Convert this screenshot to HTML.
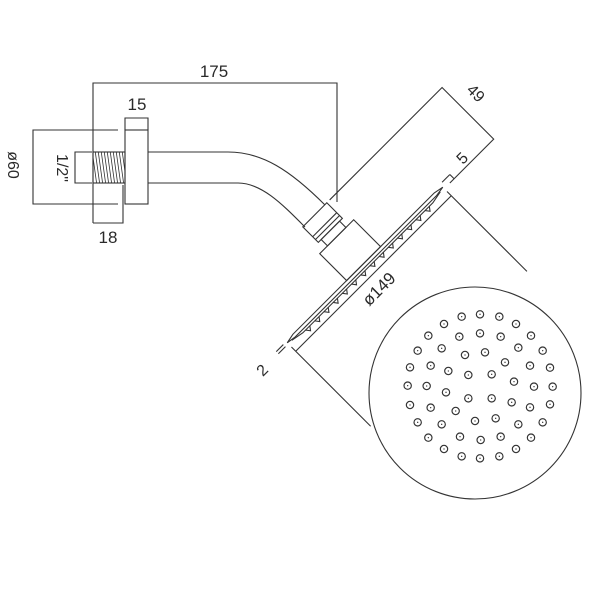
<!DOCTYPE html>
<html><head><meta charset="utf-8"><style>
html,body{margin:0;padding:0;background:#fff;}
svg{display:block}
text{font-family:"Liberation Sans",sans-serif;fill:#2a2a2a;}
</style></head><body>
<svg width="600" height="600" viewBox="0 0 600 600" xmlns="http://www.w3.org/2000/svg">
<defs><clipPath id="th"><rect x="93" y="152" width="32" height="31"/></clipPath></defs>
<g fill="none" stroke="#333" stroke-width="1.1">
<!-- 175 dim -->
<polyline points="93,223 93,83 337,83 337,202"/>
<!-- ø60 box -->
<polyline points="118,130 33,130 33,204 118,204"/>
<!-- 15 dim -->
<polyline points="125,130 125,118 148,118 148,130"/>
<rect x="125" y="130" width="23" height="74"/>
<!-- 1/2 box -->
<polyline points="92,152 75,152 75,183 92,183"/>
<rect x="93" y="152" width="32" height="31"/>
<g clip-path="url(#th)" stroke-width="0.8">
<path d="M92,150 L97,186 M95,150 L100,186 M98,150 L103,186 M101,150 L106,186 M104,150 L109,186 M107,150 L112,186 M110,150 L115,186 M113,150 L118,186 M116,150 L121,186 M119,150 L124,186 M122,150 L127,186"/>
</g>
<!-- 18 dim -->
<polyline points="93,223 123,223 123,185"/>
<!-- arm -->
<path d="M148,152 L228,152 C262,152 290,170 325,205"/>
<path d="M148,183 L238,183 C262,183 283,205 305,227"/>
<!-- head -->
<g transform="translate(365,265) rotate(-45)">
<rect x="-17" y="-71" width="34" height="22"/>
<line x1="-17" y1="-57" x2="17" y2="-57"/>
<line x1="-17" y1="-53" x2="17" y2="-53"/>
<rect x="-13" y="-49" width="26" height="9"/>
<rect x="-24" y="-40" width="48" height="38"/>
<path d="M-110,0 L-100,-2 L100,-2 L110,0 L100,1.5 L-100,1.5 Z"/>
<path d="M-105,1.5 L-92,4 L92,4 L105,1.5"/>
<path d="M-88,4 l3,4 l3,-4 M-75,4 l3,4 l3,-4 M-62,4 l3,4 l3,-4 M-49,4 l3,4 l3,-4 M-36,4 l3,4 l3,-4 M-23,4 l3,4 l3,-4 M-10,4 l3,4 l3,-4 M3,4 l3,4 l3,-4 M16,4 l3,4 l3,-4 M29,4 l3,4 l3,-4 M42,4 l3,4 l3,-4 M55,4 l3,4 l3,-4 M68,4 l3,4 l3,-4 M81,4 l3,4 l3,-4"/>
<line x1="-110" y1="12" x2="110" y2="12"/>
<line x1="-110" y1="6" x2="-110" y2="118"/>
<line x1="110" y1="6" x2="110" y2="119"/>
<!-- 2 dim -->
<line x1="-114" y1="-1.5" x2="-124" y2="-1.5"/>
<line x1="-114" y1="1.5" x2="-124" y2="1.5"/>
<!-- 5 dim -->
<line x1="113" y1="-4" x2="124" y2="-4"/>
<line x1="124" y1="-4" x2="124" y2="2"/>
<!-- 49 dim -->
<polyline points="21,-71 180,-71 180,2 118,2"/>
</g>
<circle cx="475" cy="393" r="106"/>
</g>
<g transform="translate(360,285) scale(0.33333)" fill="none" stroke="#333" stroke-width="3.5">
<g id="dots">
<circle cx="305" cy="95" r="11"/><circle cx="360" cy="88" r="11"/><circle cx="418" cy="95" r="11"/><circle cx="468" cy="117" r="11"/><circle cx="252" cy="117" r="11"/>
<circle cx="205" cy="152" r="11"/><circle cx="298" cy="155" r="11"/><circle cx="360" cy="145" r="11"/><circle cx="422" cy="155" r="11"/><circle cx="513" cy="152" r="11"/>
<circle cx="173" cy="197" r="11"/><circle cx="245" cy="190" r="11"/><circle cx="315" cy="210" r="11"/><circle cx="375" cy="202" r="11"/><circle cx="475" cy="188" r="11"/><circle cx="548" cy="197" r="11"/>
<circle cx="150" cy="247" r="11"/><circle cx="212" cy="242" r="11"/><circle cx="265" cy="258" r="11"/><circle cx="325" cy="270" r="11"/><circle cx="395" cy="268" r="11"/><circle cx="435" cy="232" r="11"/><circle cx="510" cy="242" r="11"/><circle cx="570" cy="248" r="11"/>
<circle cx="143" cy="302" r="11"/><circle cx="200" cy="303" r="11"/><circle cx="258" cy="322" r="11"/><circle cx="462" cy="290" r="11"/><circle cx="522" cy="305" r="11"/><circle cx="578" cy="305" r="11"/>
<circle cx="150" cy="360" r="11"/><circle cx="212" cy="368" r="11"/><circle cx="287" cy="378" r="11"/><circle cx="325" cy="340" r="11"/><circle cx="395" cy="340" r="11"/><circle cx="455" cy="352" r="11"/><circle cx="510" cy="367" r="11"/><circle cx="570" cy="358" r="11"/>
<circle cx="173" cy="412" r="11"/><circle cx="245" cy="418" r="11"/><circle cx="345" cy="408" r="11"/><circle cx="407" cy="400" r="11"/><circle cx="475" cy="418" r="11"/><circle cx="548" cy="412" r="11"/>
<circle cx="205" cy="458" r="11"/><circle cx="300" cy="455" r="11"/><circle cx="362" cy="465" r="11"/><circle cx="422" cy="455" r="11"/><circle cx="513" cy="458" r="11"/>
<circle cx="252" cy="492" r="11"/><circle cx="305" cy="514" r="11"/><circle cx="360" cy="520" r="11"/><circle cx="418" cy="514" r="11"/><circle cx="468" cy="492" r="11"/>
</g>
</g>
<g transform="translate(360,285) scale(0.33333)" fill="#333" stroke="#333" stroke-width="4">
<path d="M305,95h.1M360,88h.1M418,95h.1M468,117h.1M252,117h.1M205,152h.1M298,155h.1M360,145h.1M422,155h.1M513,152h.1M173,197h.1M245,190h.1M315,210h.1M375,202h.1M475,188h.1M548,197h.1M150,247h.1M212,242h.1M265,258h.1M325,270h.1M395,268h.1M435,232h.1M510,242h.1M570,248h.1M143,302h.1M200,303h.1M258,322h.1M462,290h.1M522,305h.1M578,305h.1M150,360h.1M212,368h.1M287,378h.1M325,340h.1M395,340h.1M455,352h.1M510,367h.1M570,358h.1M173,412h.1M245,418h.1M345,408h.1M407,400h.1M475,418h.1M548,412h.1M205,458h.1M300,455h.1M362,465h.1M422,455h.1M513,458h.1M252,492h.1M305,514h.1M360,520h.1M418,514h.1M468,492h.1" stroke-linecap="round"/>
</g>
<text x="214" y="77" font-size="17" text-anchor="middle">175</text>
<text x="137" y="110" font-size="17" text-anchor="middle">15</text>
<text x="108" y="243" font-size="17" text-anchor="middle">18</text>
<text transform="translate(57,168) rotate(90)" font-size="16" text-anchor="middle">1/2"</text>
<text transform="translate(8,165) rotate(90)" font-size="16" text-anchor="middle">ø60</text>
<text transform="translate(383,293) rotate(-45)" font-size="17" text-anchor="middle">ø149</text>
<text transform="translate(472,97) rotate(45)" font-size="16" text-anchor="middle">49</text>
<text transform="translate(466,162) rotate(-45)" font-size="16" text-anchor="middle">5</text>
<text transform="translate(266,374) rotate(-45)" font-size="16" text-anchor="middle">2</text>
</svg>
</body></html>
